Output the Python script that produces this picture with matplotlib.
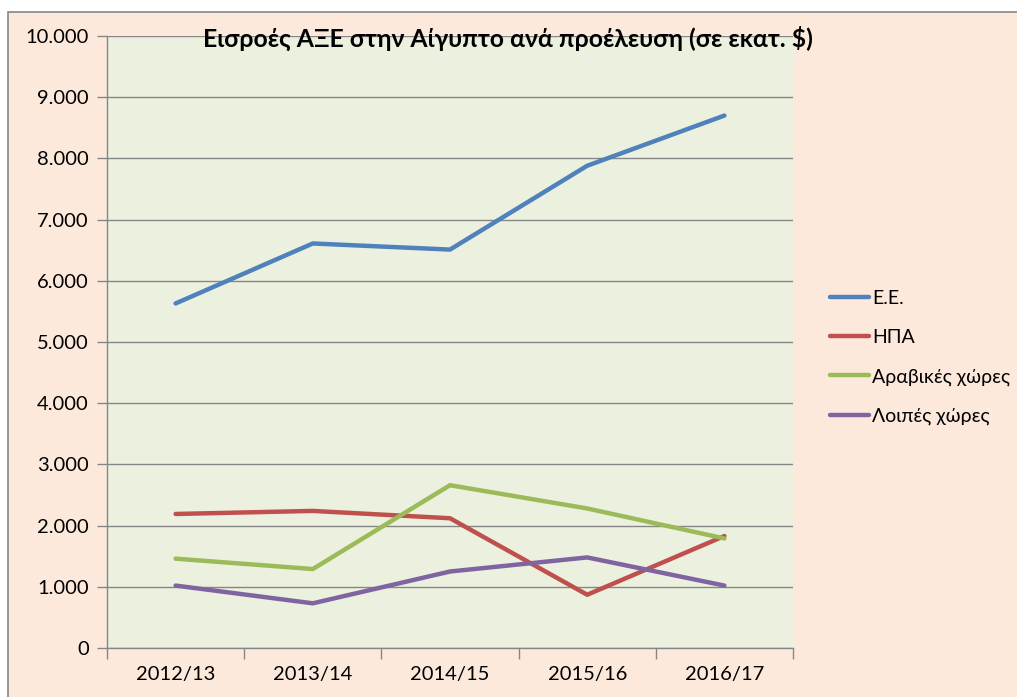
import matplotlib
matplotlib.use("Agg")
import matplotlib.pyplot as plt
from matplotlib.ticker import FuncFormatter, FixedLocator
from matplotlib.patches import Rectangle

categories = ["2012/13", "2013/14", "2014/15", "2015/16", "2016/17"]
ee = [5630, 6610, 6510, 7880, 8700]
usa = [2190, 2240, 2120, 870, 1830]
arab = [1460, 1290, 2660, 2280, 1790]
others = [1020, 730, 1250, 1480, 1020]
series_names = ["Ε.Ε.", "ΗΠΑ", "Αραβικές χώρες", "Λοιπές χώρες"]
title = "Εισροές ΑΞΕ στην Αίγυπτο ανά προέλευση (σε εκατ. $)"

plt.rcParams['font.family'] = ['Lato', 'DejaVu Sans']

W, H = 1017, 697
fig = plt.figure(figsize=(W/100, H/100), dpi=100)
fig.patch.set_facecolor('white')
# chart frame (right and bottom edges run off the picture)
fig.patches.append(Rectangle((8/W, -0.05), 1.05 - 8/W, 1.05 - 12/H, transform=fig.transFigure,
                             facecolor='#FDE9DB', edgecolor='#868686', linewidth=1.2, zorder=-5))

left, right, top, bottom = 107, 793, 36, 648
ax = fig.add_axes([left/W, 1 - bottom/H, (right-left)/W, (bottom-top)/H])
ax.set_zorder(1)
ax.set_facecolor('#EBF1DE')

colors = ['#4F81BD', '#C0504D', '#9BBB59', '#8064A2']
x = list(range(len(categories)))
for vals, name, c in zip([ee, usa, arab, others], series_names, colors):
    ax.plot(x, vals, color=c, linewidth=3.2, label=name, solid_capstyle='round', zorder=3)

ax.set_xlim(-0.5, len(categories) - 0.5)
ax.set_ylim(0, 10000)
ax.set_yticks(range(0, 10001, 1000))
ax.yaxis.set_major_formatter(FuncFormatter(lambda v, p: f"{int(v):,}".replace(",", ".")))
ax.xaxis.set_major_locator(FixedLocator([i - 0.5 for i in range(len(categories) + 1)]))
ax.xaxis.set_minor_locator(FixedLocator(x))
ax.set_xticklabels([])
ax.set_xticklabels(categories, minor=True)
ax.tick_params(axis='x', which='minor', length=0, pad=13, labelsize=14.5)
ax.tick_params(axis='x', which='major', length=8, color='#868686', width=1)
ax.tick_params(axis='y', length=7, color='#868686', width=1, pad=6, labelsize=14.5)
ax.grid(axis='y', color='#868686', linewidth=1)
ax.set_axisbelow(True)
for s in ['top', 'right']:
    ax.spines[s].set_visible(False)
for s in ['left', 'bottom']:
    ax.spines[s].set_color('#868686')
    ax.spines[s].set_linewidth(1)

fig.text(508/W, 1 - 38/H, title, ha='center', va='center', fontsize=17.8, fontweight='bold', zorder=5)

leg = fig.legend(loc='center left', bbox_to_anchor=(812/W, 1 - 357.5/H), frameon=False,
                 fontsize=14, handlelength=2.05, handletextpad=0.15, labelspacing=1.15)

fig.savefig("out.png", dpi=100, facecolor=fig.get_facecolor())
